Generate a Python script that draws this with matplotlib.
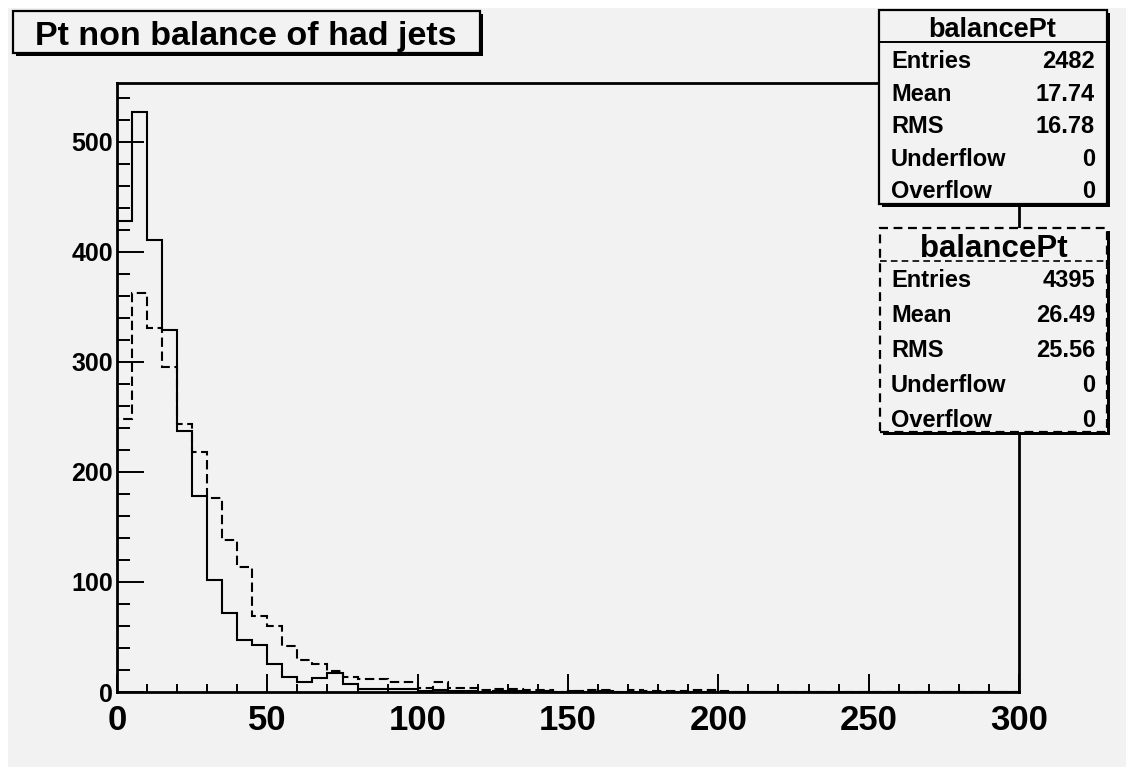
import numpy as np
import matplotlib
matplotlib.use("Agg")
import matplotlib.pyplot as plt
from matplotlib.patches import Rectangle
from matplotlib.lines import Line2D

# ---------------- data ----------------
bin_edges = np.arange(0, 305, 5)  # 60 bins of width 5 from 0 to 300
solid_counts = [428, 527, 411, 329, 237, 178, 102, 72, 47, 43,
                25, 14, 9, 13, 17, 7, 3, 3, 3, 3,
                1, 2, 1, 1, 0, 1, 1, 0, 1, 0,
                1, 0, 1, 0, 0, 0, 0, 0, 0, 0,
                0, 0, 0, 0, 0, 0, 0, 0, 0, 0,
                0, 0, 0, 0, 0, 0, 0, 0, 0, 0]
dashed_counts = [248, 363, 331, 295, 244, 218, 176, 138, 114, 69,
                 60, 42, 29, 25, 19, 14, 12, 12, 9, 9,
                 4, 9, 4, 4, 2, 3, 3, 2, 2, 0,
                 1, 2, 2, 0, 2, 1, 1, 1, 2, 2,
                 1, 0, 0, 0, 0, 0, 0, 0, 0, 0,
                 0, 0, 0, 0, 0, 0, 0, 0, 0, 0]
title = "Pt non balance of had jets"
stat_names = ["Entries", "Mean", "RMS", "Underflow", "Overflow"]
stats1 = ["2482", "17.74", "16.78", "0", "0"]
stats2 = ["4395", "26.49", "25.56", "0", "0"]
hist_name = "balancePt"
x_ticks = [0, 50, 100, 150, 200, 250, 300]
y_ticks = [0, 100, 200, 300, 400, 500]

# ---------------- figure ----------------
W, H = 1126, 767
BG = "#f2f2f2"
FONT = ["Liberation Sans", "DejaVu Sans"]
fig = plt.figure(figsize=(W / 100, H / 100), dpi=100, facecolor="white")


def fx(x):
    return x / W


def fy(y):
    return 1 - y / H


# grey canvas with small white margin top/left
fig.add_artist(Rectangle((fx(8), 0), 1 - fx(8), fy(8), transform=fig.transFigure,
                         facecolor=BG, edgecolor="none", zorder=0))

ax_l, ax_r, ax_t, ax_b = 117, 1019, 83, 692
ax = fig.add_axes([fx(ax_l), fy(ax_b), (ax_r - ax_l) / W, (ax_b - ax_t) / H])
ax.set_facecolor(BG)
ax.stairs(solid_counts, bin_edges, color="black", linewidth=1.5, baseline=0)
ax.stairs(dashed_counts, bin_edges, color="black", linewidth=1.5, baseline=0,
          linestyle=(0, (4.5, 2.2)))
ax.set_xlim(0, 300)
ax.set_ylim(0, 553.5)
ax.set_xticks(x_ticks)
ax.set_yticks(y_ticks)
ax.set_xticks(np.arange(0, 301, 10), minor=True)
ax.set_yticks(np.arange(0, 551, 20), minor=True)
ax.tick_params(axis="x", which="major", direction="in", length=13, width=1.4, pad=9)
ax.tick_params(axis="x", which="minor", direction="in", length=6, width=1.4)
ax.tick_params(axis="y", which="major", direction="in", length=19.5, width=1.4, pad=3)
ax.tick_params(axis="y", which="minor", direction="in", length=9.5, width=1.4)
for s in ax.spines.values():
    s.set_linewidth(2.0)
for lab in ax.get_xticklabels():
    lab.set_fontfamily(FONT)
    lab.set_fontweight("bold")
    lab.set_fontsize(25)
for lab in ax.get_yticklabels():
    lab.set_fontfamily(FONT)
    lab.set_fontweight("bold")
    lab.set_fontsize(18)


def box(x0, y0, x1, y1, ls="-", shadow=3, lw=1.6):
    fig.add_artist(Rectangle((fx(x0 + shadow), fy(y1 + shadow)), (x1 - x0) / W, (y1 - y0) / H,
                             transform=fig.transFigure, facecolor="black",
                             edgecolor="black", linewidth=0, zorder=5))
    fig.add_artist(Rectangle((fx(x0), fy(y1)), (x1 - x0) / W, (y1 - y0) / H,
                             transform=fig.transFigure, facecolor=BG,
                             edgecolor="black", linewidth=lw, linestyle=ls, zorder=6))


def hline(x0, x1, y, ls="-", lw=1.4):
    fig.add_artist(Line2D([fx(x0), fx(x1)], [fy(y), fy(y)], transform=fig.transFigure,
                          color="black", linewidth=lw, linestyle=ls, zorder=7))


def txt(x, y, s, size, ha="left", va="baseline"):
    fig.text(fx(x), fy(y), s, fontsize=size, fontweight="bold", family=FONT,
             ha=ha, va=va, zorder=8)


# title box
box(13, 11, 480, 53)
txt(246, 45, title, 24.5, ha="center")

# stats box 1
box(879, 10, 1107, 204)
hline(879, 1107, 42)
txt(992, 37, hist_name, 19.5, ha="center")
rows1 = [68, 100.6, 133.2, 165.8, 198.4]
for name, val, yb in zip(stat_names, stats1, rows1):
    txt(891, yb, name, 17)
    txt(1095, yb, val, 17, ha="right")

# stats box 2 (dashed)
box(880, 228, 1107, 432, ls=(0, (4, 2.5)))
hline(880, 1107, 261, ls=(0, (4, 2.5)), lw=1.2)
txt(994, 257, hist_name, 22.5, ha="center")
rows2 = [287, 322, 357, 392, 427]
for name, val, yb in zip(stat_names, stats2, rows2):
    txt(891, yb, name, 17)
    txt(1095, yb, val, 17, ha="right")

fig.savefig("out.png", dpi=100, facecolor="white")
